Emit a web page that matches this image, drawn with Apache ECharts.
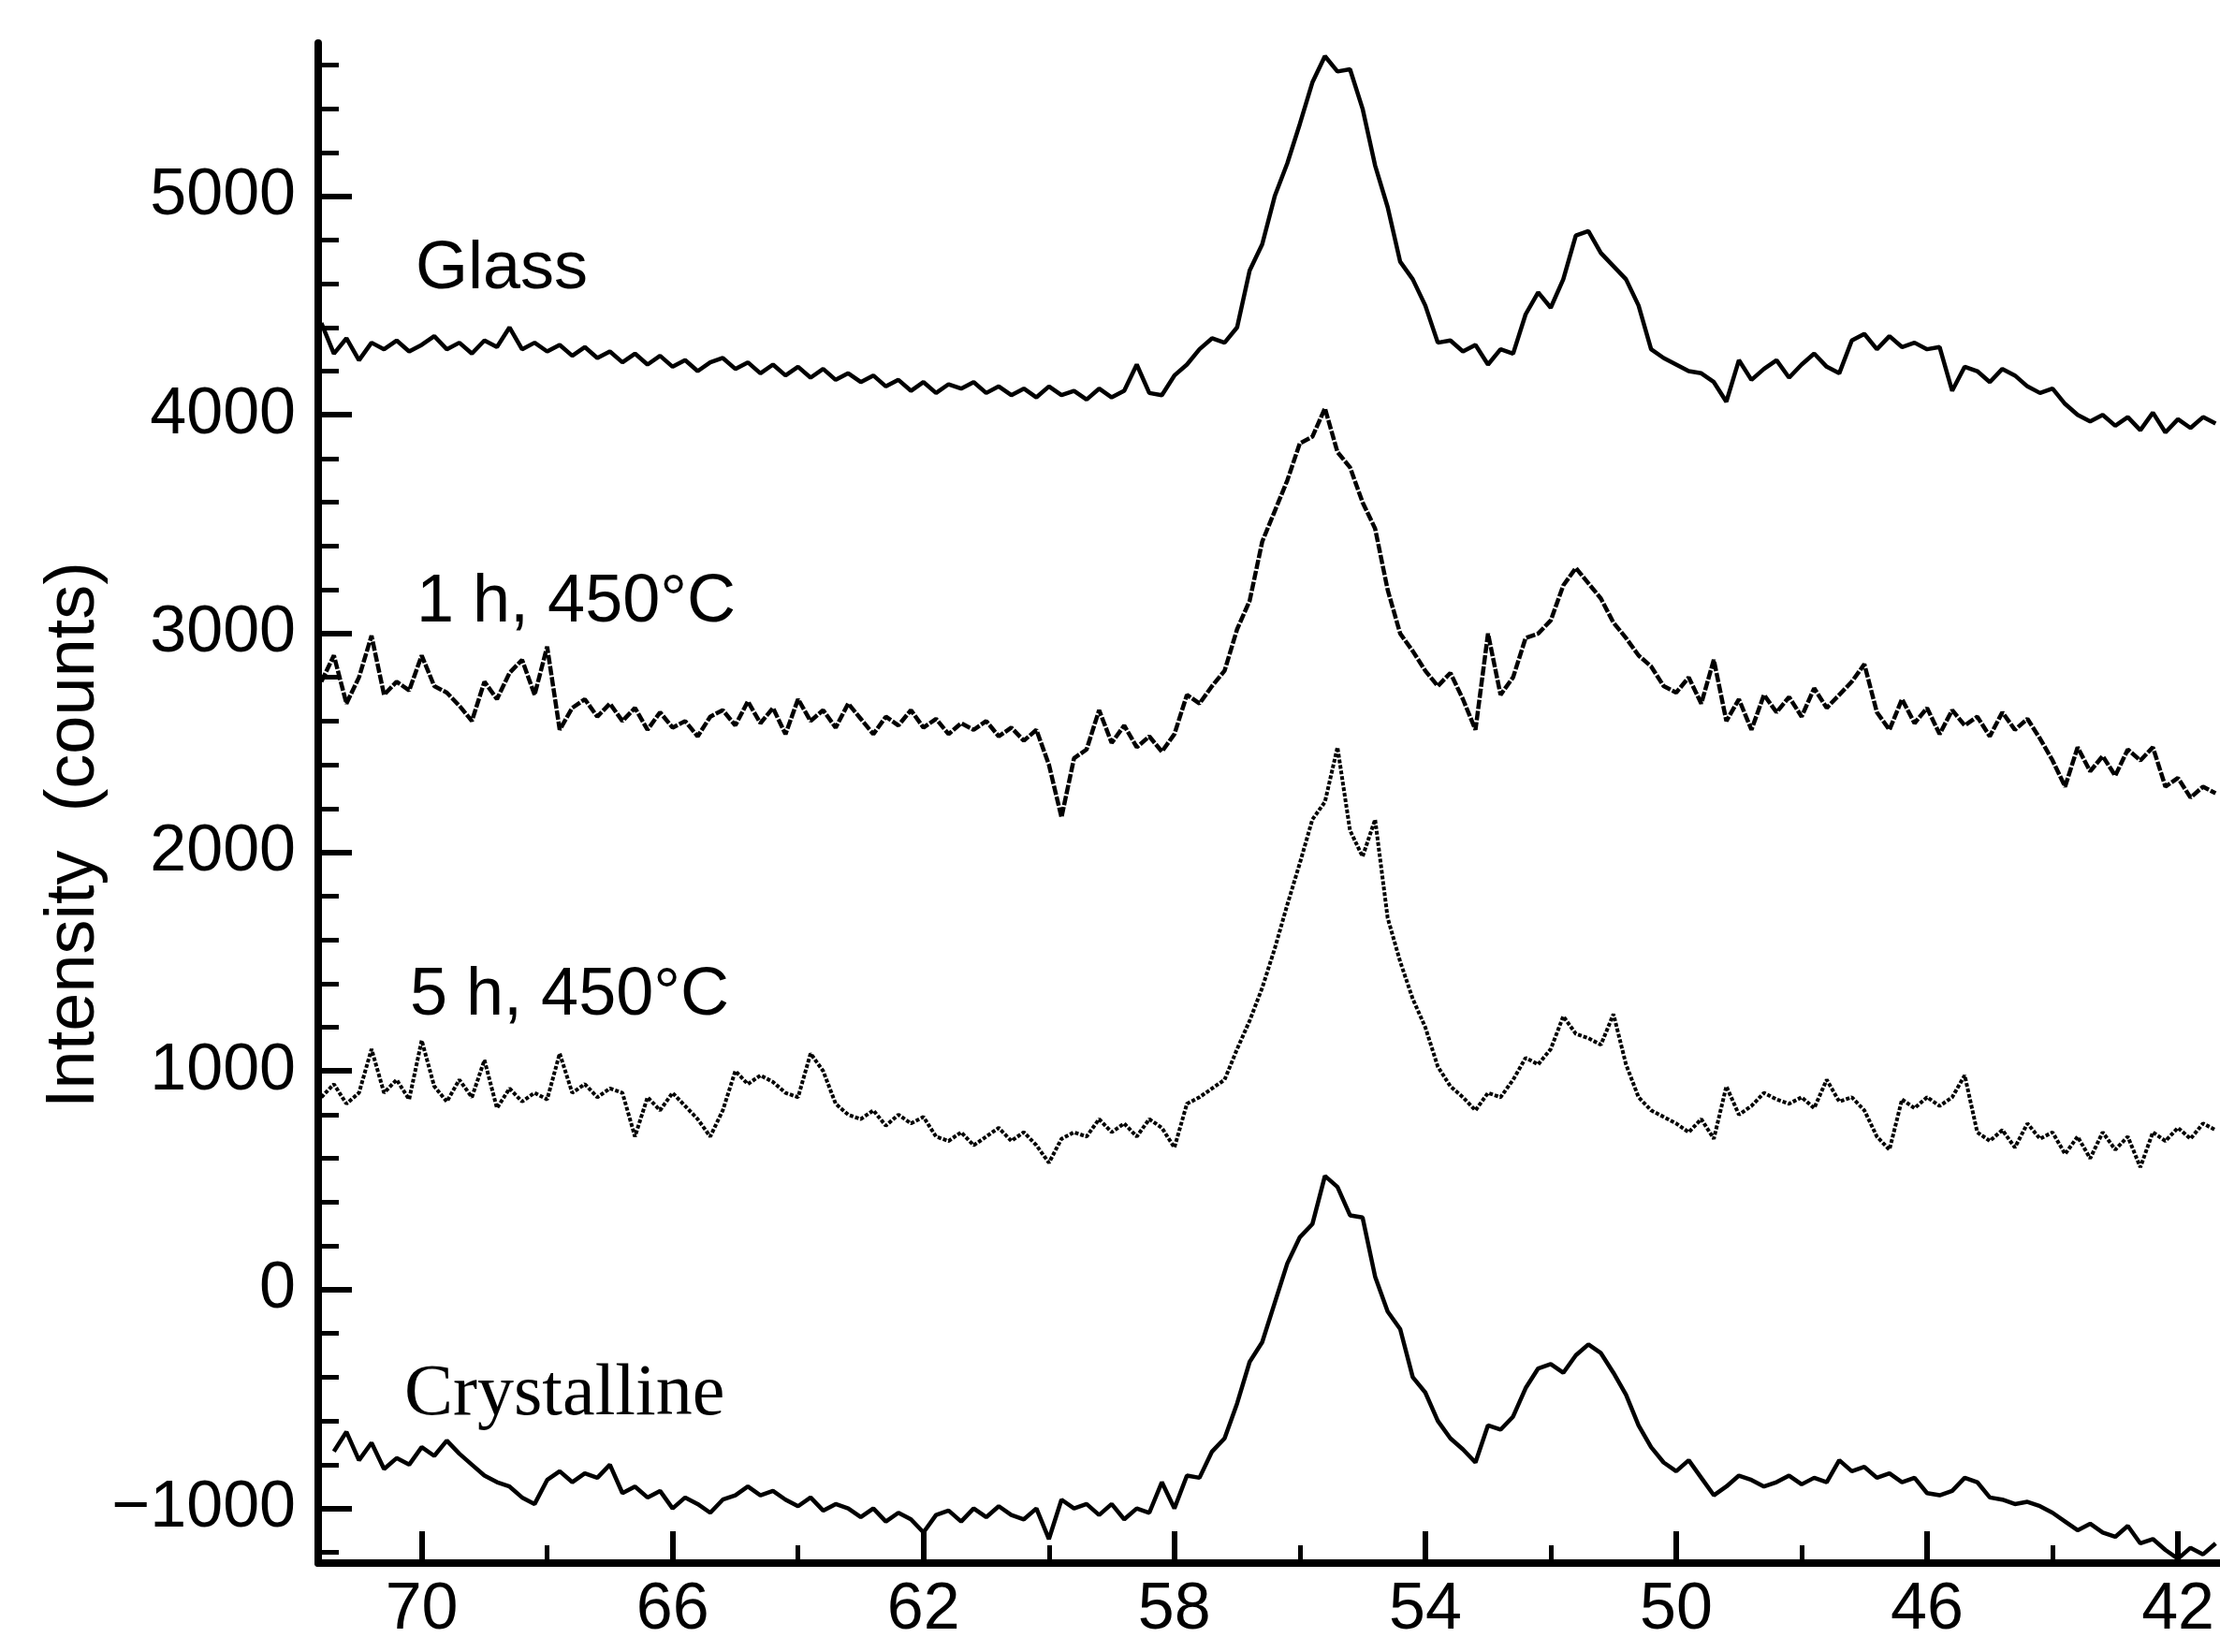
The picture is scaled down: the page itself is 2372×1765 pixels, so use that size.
<!DOCTYPE html>
<html><head><meta charset="utf-8">
<script src="https://cdn.jsdelivr.net/npm/echarts@6/dist/echarts.min.js"></script>
<style>html,body{margin:0;padding:0;background:#fff;}#c{width:2372px;height:1765px;}</style>
</head><body><div id="c"></div>
<script>
// 2-theta sample positions (degrees)
const twoTheta = [71.6,71.4,71.2,71.0,70.8,70.6,70.4,70.2,70.0,69.8,
69.6,69.4,69.2,69.0,68.8,68.6,68.4,68.2,68.0,67.8,
67.6,67.4,67.2,67.0,66.8,66.6,66.4,66.2,66.0,65.8,
65.6,65.4,65.2,65.0,64.8,64.6,64.4,64.2,64.0,63.8,
63.6,63.4,63.2,63.0,62.8,62.6,62.4,62.2,62.0,61.8,
61.6,61.4,61.2,61.0,60.8,60.6,60.4,60.2,60.0,59.8,
59.6,59.4,59.2,59.0,58.8,58.6,58.4,58.2,58.0,57.8,
57.6,57.4,57.2,57.0,56.8,56.6,56.4,56.2,56.0,55.8,
55.6,55.4,55.2,55.0,54.8,54.6,54.4,54.2,54.0,53.8,
53.6,53.4,53.2,53.0,52.8,52.6,52.4,52.2,52.0,51.8,
51.6,51.4,51.2,51.0,50.8,50.6,50.4,50.2,50.0,49.8,
49.6,49.4,49.2,49.0,48.8,48.6,48.4,48.2,48.0,47.8,
47.6,47.4,47.2,47.0,46.8,46.6,46.4,46.2,46.0,45.8,
45.6,45.4,45.2,45.0,44.8,44.6,44.4,44.2,44.0,43.8,
43.6,43.4,43.2,43.0,42.8,42.6,42.4,42.2,42.0,41.8,
41.6,41.4];

const glass = [4420,4280,4350,4250,4330,4300,4340,4290,4320,4360,
4300,4330,4280,4340,4310,4400,4300,4330,4290,4320,
4270,4310,4260,4290,4240,4280,4230,4270,4220,4250,
4200,4240,4260,4210,4240,4190,4230,4180,4220,4170,
4210,4160,4190,4150,4180,4130,4160,4110,4150,4100,
4140,4120,4150,4100,4130,4090,4120,4080,4130,4090,
4110,4070,4120,4080,4110,4230,4100,4090,4180,4230,
4300,4350,4330,4400,4660,4780,5000,5150,5330,5520,
5640,5570,5580,5400,5140,4950,4700,4620,4500,4330,
4340,4290,4320,4230,4300,4280,4460,4560,4490,4620,
4820,4840,4740,4680,4620,4500,4300,4260,4230,4200,
4190,4150,4060,4250,4160,4210,4250,4170,4230,4280,
4220,4190,4340,4370,4300,4360,4310,4330,4300,4310,
4110,4220,4200,4150,4210,4180,4130,4100,4120,4050,
4000,3970,4000,3950,3990,3930,4010,3920,3980,3940,
3990,3960];

const anneal1h = [2780,2900,2680,2800,2990,2720,2780,2740,2900,2760,
2730,2670,2600,2780,2700,2820,2880,2720,2940,2560,
2660,2700,2620,2680,2600,2660,2560,2640,2570,2600,
2530,2620,2650,2580,2690,2590,2660,2540,2700,2600,
2650,2570,2680,2610,2540,2620,2580,2650,2570,2610,
2540,2590,2560,2600,2530,2570,2510,2560,2400,2160,
2430,2470,2650,2500,2580,2480,2530,2460,2540,2720,
2680,2760,2830,3020,3150,3420,3560,3700,3870,3900,
4030,3830,3760,3600,3480,3200,3000,2920,2830,2760,
2820,2700,2560,3000,2720,2800,2980,3000,3060,3220,
3300,3230,3160,3050,2980,2900,2850,2760,2730,2800,
2680,2880,2600,2700,2560,2720,2640,2710,2620,2750,
2660,2720,2780,2860,2640,2560,2700,2590,2660,2540,
2650,2580,2620,2530,2640,2560,2610,2520,2420,2300,
2480,2370,2440,2350,2470,2420,2480,2300,2340,2250,
2300,2270];

const anneal5h = [880,940,850,900,1100,900,960,870,1140,930,
860,960,880,1050,830,920,860,900,870,1080,
900,940,880,920,900,700,880,820,900,840,
780,700,820,1000,940,980,950,900,880,1080,
1000,850,800,780,820,750,800,760,790,700,
680,720,660,700,740,680,720,660,580,690,
720,700,780,720,760,700,780,740,650,850,
880,920,960,1100,1230,1380,1560,1760,1950,2150,
2230,2480,2100,1980,2150,1700,1500,1330,1200,1020,
930,880,820,900,880,960,1060,1030,1100,1250,
1170,1150,1120,1260,1030,880,820,790,760,720,
780,690,930,800,840,900,870,850,880,830,
960,860,880,820,700,640,870,830,880,840,
880,980,720,680,730,650,760,690,720,620,
700,600,720,640,700,560,720,680,740,690,
760,730];

const crystalline = [null,-740,-650,-780,-700,-820,-770,-800,-720,-760,
-690,-750,-800,-850,-880,-900,-950,-980,-870,-830,
-880,-840,-860,-800,-930,-900,-950,-920,-1000,-950,
-980,-1020,-960,-940,-900,-940,-920,-960,-990,-950,
-1010,-980,-1000,-1040,-1000,-1060,-1020,-1050,-1110,-1030,
-1010,-1060,-1000,-1040,-990,-1030,-1050,-1000,-1140,-960,
-1000,-980,-1030,-980,-1050,-1000,-1020,-880,-1000,-850,
-860,-740,-680,-520,-330,-240,-60,120,240,300,
520,470,340,330,60,-100,-180,-400,-470,-600,
-680,-730,-790,-620,-640,-580,-450,-360,-340,-380,
-300,-250,-290,-380,-480,-620,-720,-790,-830,-780,
-860,-940,-900,-850,-870,-900,-880,-850,-890,-860,
-880,-780,-830,-810,-860,-840,-880,-860,-930,-940,
-920,-860,-880,-950,-960,-980,-970,-990,-1020,-1060,
-1100,-1070,-1110,-1130,-1080,-1160,-1140,-1190,-1230,-1180,
-1210,-1160];

const xLabelTicks = [70,66,62,58,54,50,46,42];
const xMinorTicks = [68,64,60,56,52,48,44];
const yLabelTicks = [-1000,0,1000,2000,3000,4000,5000];
const yMinorTicks = [-1200,-800,-600,-400,-200,200,400,600,800,1200,1400,1600,1800,2200,2400,2600,2800,3200,3400,3600,3800,4200,4400,4600,4800,5200,5400,5600];
const seriesNames = ['Glass','1 h, 450°C','5 h, 450°C','Crystalline'];

const FONT = "'Liberation Sans', Arial, Helvetica, sans-serif";
const SERIF = "'Liberation Serif', 'Times New Roman', serif";

function pairs(vals){
  const out = [];
  for (let i = 0; i < twoTheta.length; i++) {
    if (vals[i] !== null) out.push([twoTheta[i], vals[i]]);
  }
  return out;
}

const X_MIN = 41.33, X_MAX = 71.65, Y_MIN = -1250, Y_MAX = 5700;

const chart = echarts.init(document.getElementById('c'), null, {renderer:'canvas'});
const lineBase = {type:'line', showSymbol:false, symbol:'none', animation:false, xAxisIndex:0, yAxisIndex:0};
const option = {
  animation:false,
  backgroundColor:'#ffffff',
  grid:{left:340, right:0, top:46, bottom:95, containLabel:false},
  xAxis:[
    {type:'value', min:X_MIN, max:X_MAX, inverse:true, position:'bottom',
     axisLine:{show:true, onZero:false, lineStyle:{color:'#000', width:8}},
     axisTick:{show:true, inside:true, length:34, customValues:xLabelTicks, lineStyle:{color:'#000', width:6}},
     axisLabel:{show:true, customValues:xLabelTicks, margin:16, color:'#000', fontSize:70, fontFamily:FONT},
     splitLine:{show:false}},
    {type:'value', min:X_MIN, max:X_MAX, inverse:true, position:'bottom',
     axisLine:{show:false, onZero:false},
     axisTick:{show:true, inside:true, length:19, customValues:xMinorTicks, lineStyle:{color:'#000', width:5}},
     axisLabel:{show:false}, splitLine:{show:false}}
  ],
  yAxis:[
    {type:'value', min:Y_MIN, max:Y_MAX, position:'left',
     axisLine:{show:true, onZero:false, lineStyle:{color:'#000', width:8}},
     axisTick:{show:true, inside:true, length:36, customValues:yLabelTicks, lineStyle:{color:'#000', width:6}},
     axisLabel:{show:true, customValues:yLabelTicks, margin:24, color:'#000', fontSize:70, fontFamily:FONT,
       formatter:function(v){ return v < 0 ? '\u2212' + Math.abs(v) : String(v); }},
     splitLine:{show:false}},
    {type:'value', min:Y_MIN, max:Y_MAX, position:'left',
     axisLine:{show:false, onZero:false},
     axisTick:{show:true, inside:true, length:22, customValues:yMinorTicks, lineStyle:{color:'#000', width:5}},
     axisLabel:{show:false}, splitLine:{show:false}}
  ],
  series:[
    Object.assign({}, lineBase, {name:seriesNames[0], data:pairs(glass), lineStyle:{color:'#000', width:4.5}}),
    Object.assign({}, lineBase, {name:seriesNames[1], data:pairs(anneal1h), lineStyle:{color:'#000', width:4.5, type:[10,2]}}),
    Object.assign({}, lineBase, {name:seriesNames[2], data:pairs(anneal5h), lineStyle:{color:'#000', width:4, type:[4,2]}}),
    Object.assign({}, lineBase, {name:seriesNames[3], data:pairs(crystalline), lineStyle:{color:'#000', width:4.5}})
  ],
  graphic:[
    {type:'text', x:444, y:288, style:{text:seriesNames[0], fontSize:72, fontFamily:FONT, fill:'#000', align:'left', verticalAlign:'middle', textAlign:'left', textVerticalAlign:'middle'}},
    {type:'text', x:445, y:644, style:{text:seriesNames[1], fontSize:72, fontFamily:FONT, fill:'#000', align:'left', verticalAlign:'middle', textAlign:'left', textVerticalAlign:'middle'}},
    {type:'text', x:438, y:1064, style:{text:seriesNames[2], fontSize:72, fontFamily:FONT, fill:'#000', align:'left', verticalAlign:'middle', textAlign:'left', textVerticalAlign:'middle'}},
    {type:'text', x:432, y:1491, style:{text:seriesNames[3], fontSize:78, fontFamily:SERIF, fill:'#000', align:'left', verticalAlign:'middle', textAlign:'left', textVerticalAlign:'middle'}},
    {type:'text', x:80, y:892, rotation:Math.PI/2, style:{text:'Intensity  (counts)', fontSize:74, fontFamily:FONT, fill:'#000', align:'center', verticalAlign:'middle', textAlign:'center', textVerticalAlign:'middle'}}
  ]
};
chart.setOption(option);
</script>
</body></html>
